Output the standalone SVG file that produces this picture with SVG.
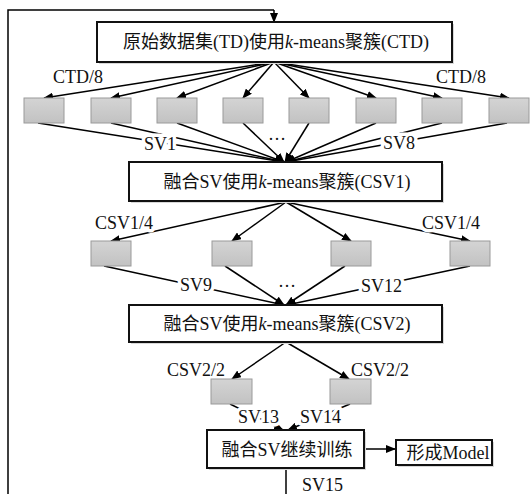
<svg xmlns="http://www.w3.org/2000/svg" width="530" height="494" viewBox="0 0 530 494">
  <defs>
    <marker id="arrow" markerWidth="10" markerHeight="8" refX="9" refY="4" orient="auto" markerUnits="userSpaceOnUse">
      <path d="M0,0 L10,4 L0,8 Z" fill="#000"/>
    </marker>
    <linearGradient id="chip" x1="0" y1="0" x2="0" y2="1">
      <stop offset="0" stop-color="#d4d4d4"/>
      <stop offset="1" stop-color="#c2c2c2"/>
    </linearGradient>
  </defs>
  <style>
    text { font-family: "Liberation Serif", "Noto Sans CJK SC", serif; font-size: 18px; fill: #111; }
    .lbl { paint-order: stroke; stroke: #fff; stroke-width: 7px; stroke-linejoin: round; }
    .main { fill: #fff; stroke: #111; stroke-width: 2; }
    .shadow { fill: #d8d8d8; }
    .chip { fill: url(#chip); stroke: #9a9a9a; stroke-width: 1; }
    .edge { fill: none; stroke: #000; stroke-width: 1.5; }
    .arr { fill: none; stroke: #000; stroke-width: 1.5; marker-end: url(#arrow); }
  </style>
  <rect width="530" height="494" fill="#fff"/>

  <!-- connectors -->
  <g id="connectors">
    <!-- feedback loop -->
    <polyline class="edge" points="286,468 286,494"/>
    <polyline class="edge" points="8,494 8,10 274,10"/>
    <line class="arr" x1="274" y1="10" x2="274" y2="22"/>

    <!-- CTD split -->
    <line class="arr" x1="274" y1="62" x2="44" y2="98"/>
    <line class="arr" x1="274" y1="62" x2="111" y2="98"/>
    <line class="arr" x1="274" y1="62" x2="177" y2="98"/>
    <line class="arr" x1="274" y1="62" x2="243" y2="98"/>
    <line class="arr" x1="274" y1="62" x2="309" y2="98"/>
    <line class="arr" x1="274" y1="62" x2="376" y2="98"/>
    <line class="arr" x1="274" y1="62" x2="442" y2="98"/>
    <line class="arr" x1="274" y1="62" x2="509" y2="98"/>

    <!-- SV1..SV8 merge -->
    <line class="arr" x1="38" y1="123" x2="284" y2="162"/>
    <line class="arr" x1="111" y1="123" x2="284" y2="162"/>
    <line class="arr" x1="177" y1="123" x2="284" y2="162"/>
    <line class="arr" x1="243" y1="123" x2="284" y2="162"/>
    <line class="arr" x1="309" y1="123" x2="285" y2="162"/>
    <line class="arr" x1="376" y1="123" x2="286" y2="162"/>
    <line class="arr" x1="442" y1="123" x2="286" y2="162"/>
    <line class="arr" x1="507" y1="123" x2="286" y2="162"/>

    <!-- CSV1 split -->
    <line class="arr" x1="286" y1="202" x2="111" y2="241"/>
    <line class="arr" x1="286" y1="202" x2="232" y2="241"/>
    <line class="arr" x1="286" y1="202" x2="351" y2="241"/>
    <line class="arr" x1="286" y1="202" x2="470" y2="241"/>

    <!-- SV9..SV12 merge -->
    <line class="arr" x1="104" y1="266" x2="284" y2="305"/>
    <line class="arr" x1="225" y1="266" x2="284" y2="305"/>
    <line class="arr" x1="345" y1="266" x2="286" y2="305"/>
    <line class="arr" x1="470" y1="266" x2="287" y2="305"/>

    <!-- CSV2 split -->
    <line class="arr" x1="286" y1="342" x2="232" y2="379"/>
    <line class="arr" x1="286" y1="342" x2="349" y2="379"/>

    <!-- SV13, SV14 merge -->
    <line class="arr" x1="230" y1="404" x2="283" y2="430"/>
    <line class="arr" x1="350" y1="404" x2="288" y2="430"/>

    <!-- to model -->
    <line class="arr" x1="366" y1="449" x2="395" y2="449"/>

    <!-- edge labels -->
    <text class="lbl" x="53" y="83">CTD/8</text>
    <text class="lbl" x="436" y="83">CTD/8</text>
    <text class="lbl" x="144" y="150">SV1</text>
    <text class="lbl" x="383" y="149">SV8</text>
    <text class="lbl" x="277" y="140" text-anchor="middle">…</text>
    <text class="lbl" x="95" y="229">CSV1/4</text>
    <text class="lbl" x="422" y="229">CSV1/4</text>
    <text class="lbl" x="180" y="291">SV9</text>
    <text class="lbl" x="361" y="292">SV12</text>
    <text class="lbl" x="287" y="287" text-anchor="middle">…</text>
    <text class="lbl" x="167" y="376">CSV2/2</text>
    <text class="lbl" x="351" y="376">CSV2/2</text>
    <text class="lbl" x="238" y="423">SV13</text>
    <text class="lbl" x="300" y="423">SV14</text>
    <text class="lbl" x="302" y="491">SV15</text>
  </g>

  <!-- main process boxes -->
  <g id="ctd">
    <rect class="shadow" x="99" y="24" width="355" height="40"/>
    <rect class="main" x="97" y="22" width="355" height="40"/>
    <text x="276" y="48" text-anchor="middle">原始数据集(TD)使用<tspan font-style="italic">k</tspan>-means聚簇(CTD)</text>
  </g>
  <g id="csv1">
    <rect class="shadow" x="131" y="164" width="313" height="39"/>
    <rect class="main" x="129" y="162" width="313" height="39"/>
    <text x="287" y="188" text-anchor="middle">融合SV使用<tspan font-style="italic">k</tspan>-means聚簇(CSV1)</text>
  </g>
  <g id="csv2">
    <rect class="shadow" x="131" y="307" width="313" height="37"/>
    <rect class="main" x="129" y="305" width="313" height="37"/>
    <text x="287" y="330" text-anchor="middle">融合SV使用<tspan font-style="italic">k</tspan>-means聚簇(CSV2)</text>
  </g>
  <g id="train">
    <rect class="shadow" x="209" y="432" width="157" height="38"/>
    <rect class="main" x="207" y="430" width="157" height="38"/>
    <text x="287" y="456" text-anchor="middle">融合SV继续训练</text>
  </g>
  <g id="model">
    <rect class="shadow" x="398" y="442" width="96" height="25"/>
    <rect class="main" x="396" y="440" width="96" height="25"/>
    <text x="448" y="459" text-anchor="middle">形成Model</text>
  </g>

  <!-- CTD/8 partitions -->
  <g id="p1"><rect class="chip" x="24" y="98" width="40" height="25"/></g>
  <g id="p2"><rect class="chip" x="91" y="98" width="40" height="25"/></g>
  <g id="p3"><rect class="chip" x="157" y="98" width="40" height="25"/></g>
  <g id="p4"><rect class="chip" x="223" y="98" width="40" height="25"/></g>
  <g id="p5"><rect class="chip" x="289" y="98" width="40" height="25"/></g>
  <g id="p6"><rect class="chip" x="356" y="98" width="40" height="25"/></g>
  <g id="p7"><rect class="chip" x="422" y="98" width="40" height="25"/></g>
  <g id="p8"><rect class="chip" x="489" y="98" width="40" height="25"/></g>

  <!-- CSV1/4 partitions -->
  <g id="q1"><rect class="chip" x="91" y="241" width="40" height="25"/></g>
  <g id="q2"><rect class="chip" x="212" y="241" width="40" height="25"/></g>
  <g id="q3"><rect class="chip" x="331" y="241" width="40" height="25"/></g>
  <g id="q4"><rect class="chip" x="450" y="241" width="40" height="25"/></g>

  <!-- CSV2/2 partitions -->
  <g id="r1"><rect class="chip" x="211" y="379" width="41" height="25"/></g>
  <g id="r2"><rect class="chip" x="330" y="379" width="41" height="25"/></g>
</svg>
